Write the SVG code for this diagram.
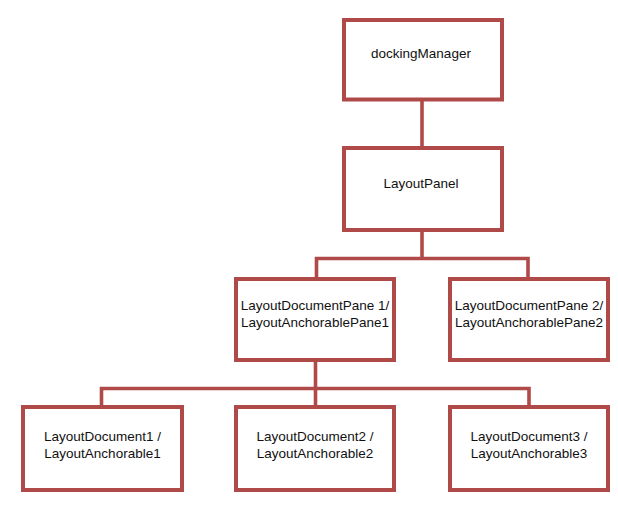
<svg xmlns="http://www.w3.org/2000/svg" width="618" height="510" viewBox="0 0 618 510">
<style>
.box{fill:#fff;stroke:#B04A48;stroke-width:4}
.con{fill:none;stroke:#B04A48;stroke-width:3.6}
text{font-family:"Liberation Sans",Arial,sans-serif;font-size:13.5px;fill:#111;text-anchor:middle}
</style>
<rect width="618" height="510" fill="#fff"/>
<g id="connectors">
<path class="con" d="M422,99 V148"/>
<path class="con" d="M422,230 V258.5 M316.5,279 V258.5 H528 V279"/>
<path class="con" d="M315.5,360 V388.5 M101.5,407 V388.5 H529 V407 M315.5,388.5 V407"/>
</g>
<g id="dockingManager">
<rect class="box" x="344" y="20" width="158" height="79.5"/>
<text x="421" y="58">dockingManager</text>
</g>
<g id="LayoutPanel">
<rect class="box" x="344" y="148" width="158" height="82"/>
<text x="421" y="188">LayoutPanel</text>
</g>
<g id="pane1">
<rect class="box" x="236" y="279" width="158" height="81"/>
<text x="315" y="310">LayoutDocumentPane 1/</text>
<text x="315" y="326.5">LayoutAnchorablePane1</text>
</g>
<g id="pane2">
<rect class="box" x="450" y="279" width="158" height="81"/>
<text x="529" y="310">LayoutDocumentPane 2/</text>
<text x="529" y="326.5">LayoutAnchorablePane2</text>
</g>
<g id="doc1">
<rect class="box" x="23" y="407" width="159" height="83"/>
<text x="102.5" y="441">LayoutDocument1 /</text>
<text x="102.5" y="457.5">LayoutAnchorable1</text>
</g>
<g id="doc2">
<rect class="box" x="236" y="407" width="158" height="83"/>
<text x="315" y="441">LayoutDocument2 /</text>
<text x="315" y="457.5">LayoutAnchorable2</text>
</g>
<g id="doc3">
<rect class="box" x="450" y="407" width="158" height="83"/>
<text x="529" y="441">LayoutDocument3 /</text>
<text x="529" y="457.5">LayoutAnchorable3</text>
</g>
</svg>
